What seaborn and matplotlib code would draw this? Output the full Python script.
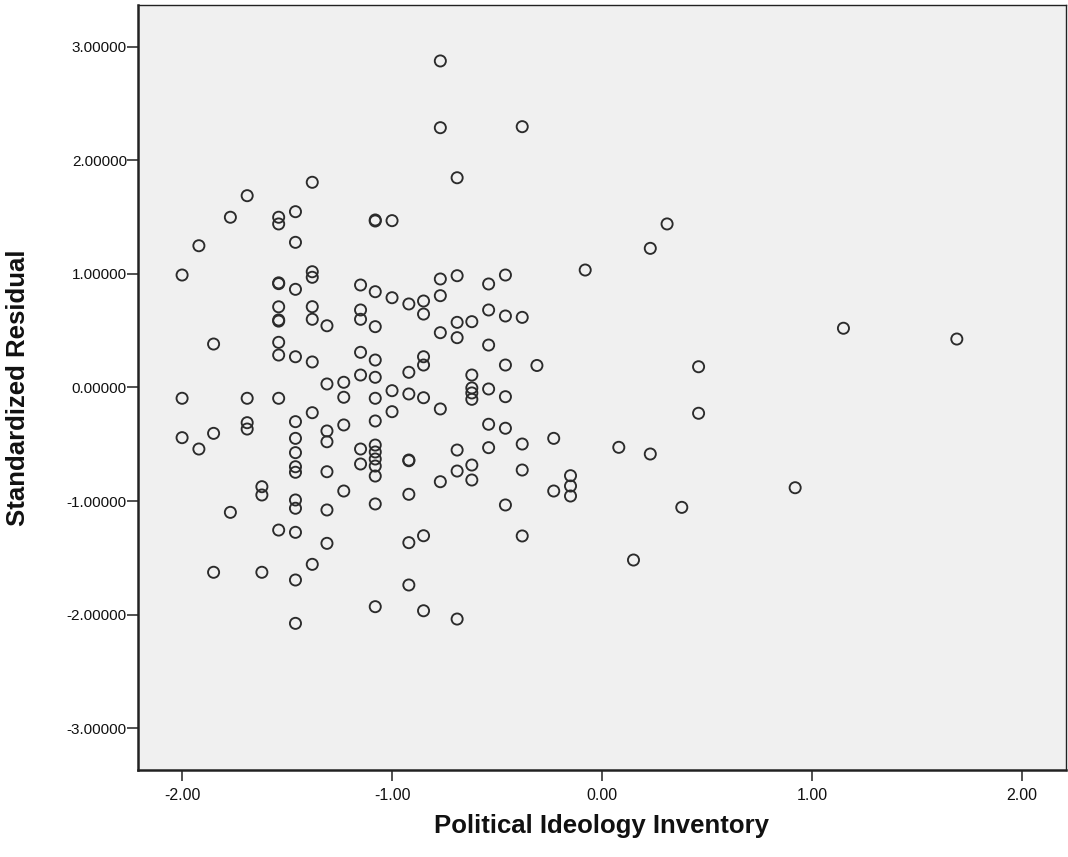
import matplotlib
matplotlib.use("Agg")
import matplotlib.pyplot as plt
from matplotlib.ticker import FormatStrFormatter, FixedLocator
import seaborn as sns
import pandas as pd

# Political Ideology Inventory score of each case
ideology = [
    -2.00, -2.00, -2.00,
    -1.92, -1.92,
    -1.85, -1.85, -1.85,
    -1.77, -1.77,
    -1.69, -1.69, -1.69, -1.69,
    -1.62, -1.62, -1.62,
    -1.54, -1.54, -1.54, -1.54, -1.54, -1.54, -1.54, -1.54, -1.54, -1.54, -1.54,
    -1.46, -1.46, -1.46, -1.46, -1.46, -1.46, -1.46, -1.46, -1.46, -1.46, -1.46, -1.46, -1.46, -1.46,
    -1.38, -1.38, -1.38, -1.38, -1.38, -1.38, -1.38, -1.38,
    -1.31, -1.31, -1.31, -1.31, -1.31, -1.31, -1.31,
    -1.23, -1.23, -1.23, -1.23,
    -1.15, -1.15, -1.15, -1.15, -1.15, -1.15, -1.15,
    -1.08, -1.08, -1.08, -1.08, -1.08, -1.08, -1.08, -1.08, -1.08, -1.08, -1.08, -1.08, -1.08, -1.08, -1.08,
    -1.00, -1.00, -1.00, -1.00,
    -0.92, -0.92, -0.92, -0.92, -0.92, -0.92, -0.92, -0.92,
    -0.85, -0.85, -0.85, -0.85, -0.85, -0.85, -0.85,
    -0.77, -0.77, -0.77, -0.77, -0.77, -0.77, -0.77,
    -0.69, -0.69, -0.69, -0.69, -0.69, -0.69, -0.69,
    -0.62, -0.62, -0.62, -0.62, -0.62, -0.62, -0.62,
    -0.54, -0.54, -0.54, -0.54, -0.54, -0.54,
    -0.46, -0.46, -0.46, -0.46, -0.46, -0.46,
    -0.38, -0.38, -0.38, -0.38, -0.38,
    -0.31,
    -0.23, -0.23,
    -0.15, -0.15, -0.15,
    -0.08,
    0.08,
    0.15,
    0.23, 0.23,
    0.31,
    0.38,
    0.46, 0.46,
    0.92,
    1.15,
    1.69,
]

# Standardized residual of each case (same order as above)
residual = [
    0.991, -0.095, -0.442,
    1.249, -0.542,
    0.383, -0.404, -1.628,
    1.500, -1.100,
    1.690, -0.095, -0.310, -0.366,
    -0.874, -0.947, -1.628,
    1.500, 1.441, 0.922, 0.915, 0.711, 0.595, 0.585, 0.398, 0.286, -0.095, -1.256,
    1.549, 1.279, 0.865, 0.271, -0.301, -0.448, -0.574, -0.698, -0.747, -0.991, -1.064, -1.276, -1.696, -2.078,
    1.808, 1.020, 0.971, 0.712, 0.601, 0.225, -0.222, -1.558,
    0.544, 0.031, -0.383, -0.478, -0.742, -1.079, -1.373,
    0.046, -0.086, -0.330, -0.912,
    0.903, 0.683, 0.601, 0.310, 0.110, -0.542, -0.674,
    1.476, 1.467, 0.844, 0.536, 0.242, 0.090, -0.095, -0.295, -0.507, -0.568, -0.630, -0.692, -0.780, -1.026, -1.931,
    1.470, 0.791, -0.028, -0.213,
    0.736, 0.134, -0.057, -0.639, -0.645, -0.941, -1.367, -1.740,
    0.762, 0.647, 0.271, 0.198, -0.090, -1.306, -1.967,
    2.877, 2.289, 0.956, 0.809, 0.483, -0.189, -0.830,
    1.848, 0.985, 0.574, 0.439, -0.551, -0.736, -2.040,
    0.580, 0.110, -0.004, -0.048, -0.104, -0.683, -0.815,
    0.912, 0.683, 0.374, -0.013, -0.324, -0.530,
    0.991, 0.630, 0.198, -0.081, -0.359, -1.035,
    2.298, 0.618, -0.498, -0.727, -1.308,
    0.194,
    -0.448, -0.912,
    -0.777, -0.868, -0.956,
    1.035,
    -0.527,
    -1.520,
    1.226, -0.586,
    1.441,
    -1.056,
    0.183, -0.227,
    -0.883,
    0.522,
    0.427,
]

x_ticks = [-2.0, -1.0, 0.0, 1.0, 2.0]
y_ticks = [-3.0, -2.0, -1.0, 0.0, 1.0, 2.0, 3.0]
x_title = "Political Ideology Inventory"
y_title = "Standardized Residual"

df = pd.DataFrame({x_title: ideology, y_title: residual})

sns.set_style("white")
plt.rcParams["font.family"] = ["Liberation Sans", "DejaVu Sans"]

fig = plt.figure(figsize=(10.68, 8.57), dpi=100)
ax = fig.add_axes([138 / 1068, 1 - 770 / 857, 928 / 1068, 765 / 857])
ax.set_facecolor("#F0F0F0")

sns.scatterplot(
    data=df, x=x_title, y=y_title, ax=ax,
    marker="o", s=64, facecolors="none", edgecolor="#2b2b2b", linewidth=1.35,
    legend=False,
)

ax.set_xlim(-2.21, 2.21)
ax.set_ylim(-3.37, 3.37)
ax.xaxis.set_major_locator(FixedLocator(x_ticks))
ax.yaxis.set_major_locator(FixedLocator(y_ticks))
ax.xaxis.set_major_formatter(FormatStrFormatter("%.2f"))
ax.yaxis.set_major_formatter(FormatStrFormatter("%.5f"))

ax.tick_params(axis="both", which="major", direction="out", length=8, width=1.2,
               color="#333333", labelcolor="#111111", left=True, bottom=True)
ax.tick_params(axis="y", labelsize=11, pad=0)
ax.tick_params(axis="x", labelsize=11.5, pad=5)

for side in ["left", "bottom", "top", "right"]:
    ax.spines[side].set_visible(True)
    ax.spines[side].set_color("#222222")
    ax.spines[side].set_linewidth(1.0)
ax.spines["left"].set_linewidth(1.8)
ax.spines["bottom"].set_linewidth(1.8)

ax.set_xlabel(x_title, fontsize=18.5, fontweight="bold", color="#111111",
              ha="center", va="center")
ax.set_ylabel(y_title, fontsize=18.5, fontweight="bold", color="#111111",
              ha="center", va="center")
ax.xaxis.set_label_coords(0.5, (770 - 826) / 765)
ax.yaxis.set_label_coords((18 - 138) / 928, 0.5)

fig.savefig("out.png", dpi=100, facecolor="white")
